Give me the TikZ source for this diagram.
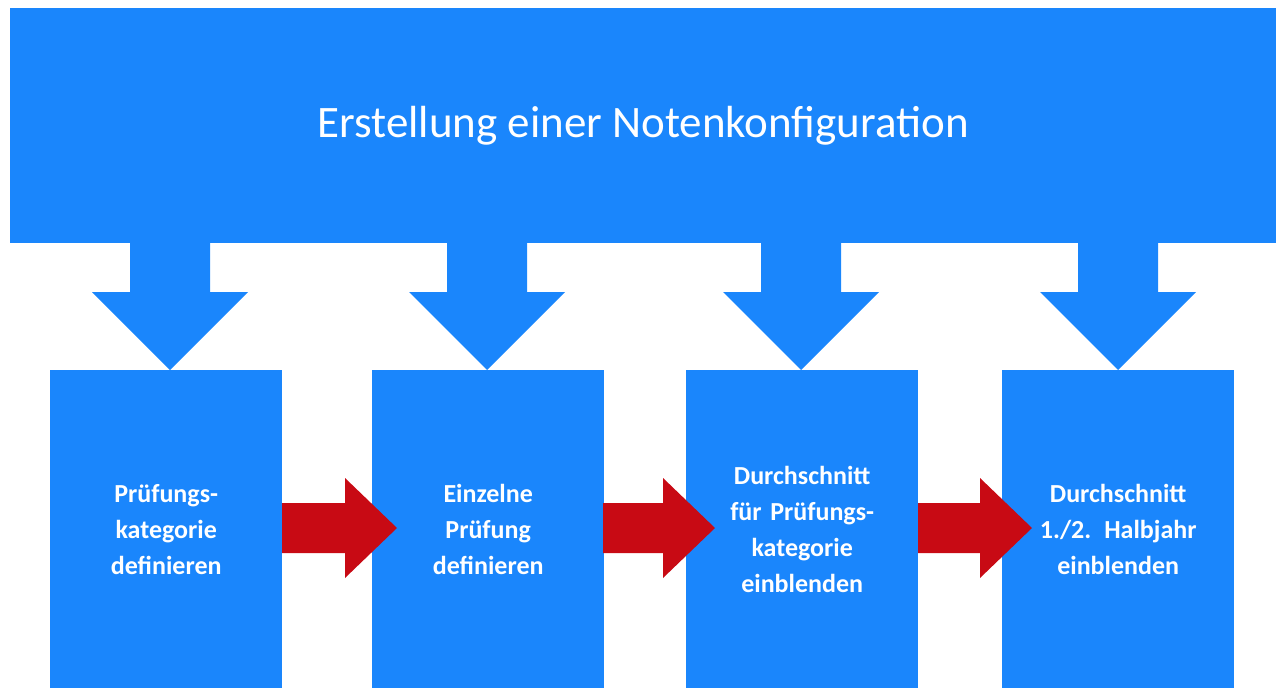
\documentclass[tikz,border=0pt]{standalone}
\usepackage{fontspec}
\setmainfont{Carlito}
\definecolor{bblue}{HTML}{1A86FC}
\definecolor{rred}{HTML}{C80A14}
\begin{document}
\begin{tikzpicture}[x=1pt,y=-1pt,
  stepbox/.style={fill=bblue,draw=none,minimum width=232pt,minimum height=318pt,anchor=north west,inner sep=0pt,text=white,font=\bfseries\fontsize{26}{36}\selectfont,align=center,text width=220pt}]
\useasboundingbox (0,0) rectangle (1286,696);
\node[fill=bblue,minimum width=1266pt,minimum height=235pt,anchor=north west,inner sep=0pt,text=white,font=\fontsize{45}{54}\selectfont] (title) at (10,8) {Erstellung einer Notenkonfiguration};
\foreach \c in {170,487,801,1118}{
  \fill[bblue] (\c-40,242) -- (\c+40,242) -- (\c+40,292) -- (\c+78,292) -- (\c,370) -- (\c-78,292) -- (\c-40,292) -- cycle;
}
\node[stepbox] (b1) at (50,370) {Prüfungs-\\kategorie\\definieren};
\node[stepbox] (b2) at (372,370) {Einzelne\\Prüfung\\definieren};
\node[stepbox] (b3) at (686,370) {Durchschnitt\\für Prüfungs-\\kategorie\\einblenden};
\node[stepbox] (b4) at (1002,370) {Durchschnitt\\1./2. Halbjahr\\einblenden};
\foreach \s/\t in {282/397,603/715,918/1032}{
  \fill[rred] (\s,503) -- (\t-52,503) -- (\t-52,478) -- (\t,528) -- (\t-52,578) -- (\t-52,553) -- (\s,553) -- cycle;
}
\end{tikzpicture}
\end{document}
